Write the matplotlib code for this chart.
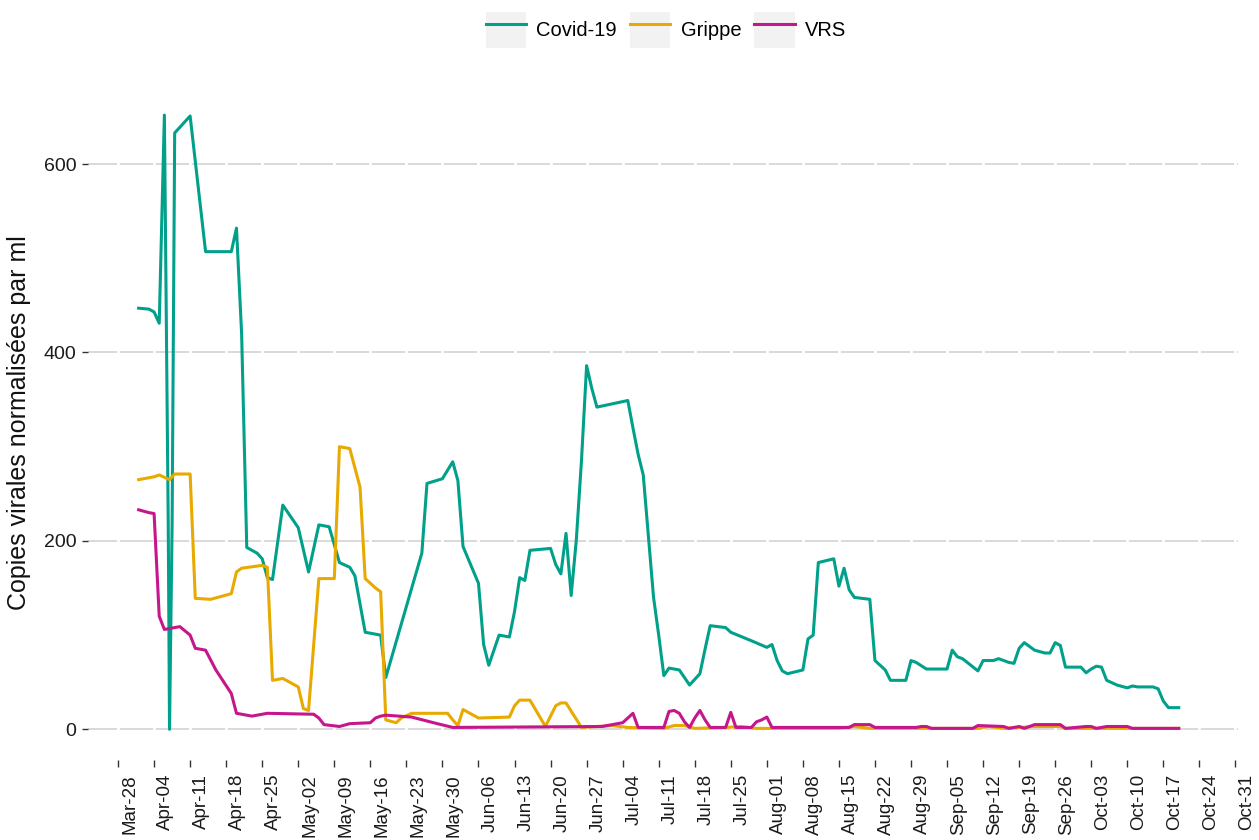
import pandas as pd
import matplotlib
matplotlib.use("Agg")
import matplotlib.pyplot as plt
import matplotlib.dates as mdates
import matplotlib.transforms as mtransforms
from matplotlib.lines import Line2D
from matplotlib.patches import Patch
from matplotlib.legend_handler import HandlerTuple

plt.rcParams["font.family"] = ["Liberation Sans", "DejaVu Sans"]

# --- data (copies virales normalisées par ml) ---
covid_dates = [
    "2022-04-01", "2022-04-03", "2022-04-04", "2022-04-05", "2022-04-06",
    "2022-04-06 18:00", "2022-04-07", "2022-04-07 12:00", "2022-04-08", "2022-04-11",
    "2022-04-14", "2022-04-19", "2022-04-20", "2022-04-21", "2022-04-22",
    "2022-04-24", "2022-04-25", "2022-04-26", "2022-04-27", "2022-04-29",
    "2022-05-02", "2022-05-04", "2022-05-06", "2022-05-08", "2022-05-10",
    "2022-05-12", "2022-05-13", "2022-05-15", "2022-05-18", "2022-05-19",
    "2022-05-26", "2022-05-27", "2022-05-30", "2022-06-01", "2022-06-02",
    "2022-06-03", "2022-06-06", "2022-06-07", "2022-06-08", "2022-06-10",
    "2022-06-12", "2022-06-13", "2022-06-14", "2022-06-15", "2022-06-16",
    "2022-06-20", "2022-06-21", "2022-06-22", "2022-06-23", "2022-06-24",
    "2022-06-25", "2022-06-26", "2022-06-27", "2022-06-28", "2022-06-29",
    "2022-07-05", "2022-07-06", "2022-07-07", "2022-07-08", "2022-07-09",
    "2022-07-10", "2022-07-11", "2022-07-12", "2022-07-13", "2022-07-15",
    "2022-07-17", "2022-07-19", "2022-07-20", "2022-07-21", "2022-07-24",
    "2022-07-25", "2022-07-29", "2022-08-01", "2022-08-02", "2022-08-03",
    "2022-08-04", "2022-08-05", "2022-08-08", "2022-08-09", "2022-08-10",
    "2022-08-11", "2022-08-14", "2022-08-15", "2022-08-16", "2022-08-17",
    "2022-08-18", "2022-08-21", "2022-08-22", "2022-08-24", "2022-08-25",
    "2022-08-28", "2022-08-29", "2022-08-30", "2022-09-01", "2022-09-05",
    "2022-09-06", "2022-09-07", "2022-09-08", "2022-09-11", "2022-09-12",
    "2022-09-14", "2022-09-15", "2022-09-17", "2022-09-18", "2022-09-19",
    "2022-09-20", "2022-09-21", "2022-09-22", "2022-09-24", "2022-09-25",
    "2022-09-26", "2022-09-27", "2022-09-28", "2022-10-01", "2022-10-02",
    "2022-10-03", "2022-10-04", "2022-10-05", "2022-10-06", "2022-10-08",
    "2022-10-10", "2022-10-11", "2022-10-12", "2022-10-15", "2022-10-16",
    "2022-10-17", "2022-10-18", "2022-10-20",
]
covid_vals = [
    447, 446, 443, 431, 652,
    217, 0, 217, 633, 651,
    507, 507, 532, 420, 193,
    187, 181, 161, 159, 238,
    214, 167, 217, 215, 177,
    172, 163, 103, 100, 55,
    187, 261, 266, 284, 264,
    194, 155, 90, 68, 100,
    98, 125, 161, 158, 190,
    192, 175, 165, 208, 142,
    201, 285, 386, 362, 342,
    349, 320, 292, 270, 205,
    140, 100, 57, 65, 63,
    47, 59, 85, 110, 108,
    103, 94, 87, 90, 73,
    62, 59, 63, 96, 100,
    177, 181, 152, 171, 148,
    140, 138, 73, 63, 52,
    52, 73, 71, 64, 64,
    84, 77, 75, 62, 73,
    73, 75, 71, 70, 86,
    92, 88, 84, 81, 81,
    92, 89, 66, 66, 60,
    64, 67, 66, 52, 47,
    44, 46, 45, 45, 43,
    30, 23, 23,
]

grippe_dates = [
    "2022-04-01", "2022-04-04", "2022-04-05", "2022-04-07", "2022-04-08",
    "2022-04-11", "2022-04-12", "2022-04-15", "2022-04-19", "2022-04-20",
    "2022-04-21", "2022-04-25", "2022-04-26", "2022-04-27", "2022-04-29",
    "2022-05-02", "2022-05-03", "2022-05-04", "2022-05-05", "2022-05-06",
    "2022-05-09", "2022-05-10", "2022-05-12", "2022-05-14", "2022-05-15",
    "2022-05-17", "2022-05-18", "2022-05-19", "2022-05-21", "2022-05-22",
    "2022-05-24", "2022-05-31", "2022-06-01", "2022-06-02", "2022-06-03",
    "2022-06-06", "2022-06-12", "2022-06-13", "2022-06-14", "2022-06-16",
    "2022-06-19", "2022-06-21", "2022-06-22", "2022-06-23", "2022-06-26",
    "2022-07-02", "2022-07-05", "2022-07-12", "2022-07-14", "2022-07-16",
    "2022-07-18", "2022-07-24", "2022-07-27", "2022-07-30", "2022-08-15",
    "2022-08-18", "2022-08-21", "2022-09-11", "2022-09-13", "2022-09-16",
    "2022-09-22", "2022-09-27", "2022-09-28", "2022-10-20",
]
grippe_vals = [
    265, 268, 270, 265, 271,
    271, 139, 138, 144, 167,
    171, 174, 172, 52, 54,
    45, 22, 20, 90, 160,
    160, 300, 298, 257, 160,
    150, 146, 10, 7, 12,
    17, 17, 10, 4, 21,
    12, 13, 25, 31, 31,
    3, 25, 28, 28, 2,
    4, 2, 1, 4, 4,
    1, 2, 3, 1, 1,
    3, 1, 1, 3, 1,
    3, 3, 1, 1,
]

vrs_dates = [
    "2022-04-01", "2022-04-03", "2022-04-04", "2022-04-05", "2022-04-06",
    "2022-04-09", "2022-04-11", "2022-04-12", "2022-04-14", "2022-04-16",
    "2022-04-19", "2022-04-20", "2022-04-23", "2022-04-26", "2022-05-05",
    "2022-05-06", "2022-05-07", "2022-05-10", "2022-05-12", "2022-05-16",
    "2022-05-17", "2022-05-18", "2022-05-19", "2022-05-24", "2022-05-29",
    "2022-06-01", "2022-06-30", "2022-07-04", "2022-07-06", "2022-07-07",
    "2022-07-12", "2022-07-13", "2022-07-14", "2022-07-15", "2022-07-16",
    "2022-07-17", "2022-07-18", "2022-07-19", "2022-07-20", "2022-07-21",
    "2022-07-24", "2022-07-25", "2022-07-26", "2022-07-29", "2022-07-30",
    "2022-07-31", "2022-08-01", "2022-08-02", "2022-08-17", "2022-08-18",
    "2022-08-21", "2022-08-22", "2022-08-30", "2022-08-31", "2022-09-01",
    "2022-09-02", "2022-09-10", "2022-09-11", "2022-09-16", "2022-09-17",
    "2022-09-19", "2022-09-20", "2022-09-22", "2022-09-27", "2022-09-28",
    "2022-10-02", "2022-10-03", "2022-10-04", "2022-10-06", "2022-10-10",
    "2022-10-11", "2022-10-20",
]
vrs_vals = [
    233, 230, 229, 120, 106,
    109, 100, 86, 84, 63,
    38, 17, 14, 17, 16,
    12, 5, 3, 6, 7,
    12, 14, 15, 13, 6,
    2, 3, 7, 17, 2,
    2, 19, 20, 17, 8,
    2, 12, 20, 10, 2,
    2, 18, 2, 2, 8,
    10, 13, 2, 2, 5,
    5, 2, 2, 3, 3,
    1, 1, 4, 3, 1,
    3, 1, 5, 5, 1,
    3, 3, 1, 3, 3,
    1, 1,
]

series_names = ["Covid-19", "Grippe", "VRS"]
series_colors = ["#00A08A", "#E8A900", "#C5168C"]

y_ticks = [0, 200, 400, 600]
tick_start, tick_end = "2022-03-28", "2022-10-31"

# --- figure ---
fig = plt.figure(figsize=(12.59, 8.4), dpi=100)
ax = fig.add_axes([0.0699, 0.0952, 0.9134, 0.8044])

all_series = [
    (covid_dates, covid_vals),
    (grippe_dates, grippe_vals),
    (vrs_dates, vrs_vals),
]
for (d, v), name, col in zip(all_series, series_names, series_colors):
    ax.plot(pd.to_datetime(d, format="ISO8601"), v, color=col, lw=2.2, label=name, zorder=3)

x_ticks = pd.date_range(tick_start, tick_end, freq="7D")
ax.set_xlim(pd.Timestamp("2022-03-22 04:00"), pd.Timestamp("2022-10-31 12:00"))
ax.set_ylim(-32.6, 684.6)

# horizontal grey grid, thin white verticals on top (ggplot look)
for yv in y_ticks:
    ax.axhline(yv, color="#D9D9D9", lw=1.4, zorder=1)
for xv in x_ticks:
    ax.axvline(xv, color="white", lw=2.0, zorder=1.5)

ax.set_xticks(x_ticks)
ax.xaxis.set_major_formatter(mdates.DateFormatter("%b-%d"))
ax.set_yticks(y_ticks)
ax.tick_params(axis="x", labelrotation=90, length=5, width=1.0, color="#333333",
               labelsize=13.5, labelcolor="#1a1a1a", pad=5)
ax.tick_params(axis="y", length=4.5, width=1.0, color="#333333",
               labelsize=14, labelcolor="#1a1a1a", pad=4)
for s in ax.spines.values():
    s.set_visible(False)

# rotated date labels sit just right of their tick, like the original
shift = mtransforms.ScaledTranslation(3 / 100, 0, fig.dpi_scale_trans)
for lbl in ax.get_xticklabels():
    lbl.set_horizontalalignment("left")
    lbl.set_transform(lbl.get_transform() + shift)

ax.set_ylabel("Copies virales normalisées par ml", fontsize=18, color="#111111")
ax.yaxis.set_label_coords(-0.05, 0.5)

# legend with grey key boxes
handles = [
    (Patch(facecolor="#F2F2F2", edgecolor="none"), Line2D([], [], color=c, lw=2.2))
    for c in series_colors
]
fig.legend(handles, series_names, loc="center", bbox_to_anchor=(0.529, 0.964), ncol=3,
           frameon=False, fontsize=14.5, handlelength=2.0, handleheight=2.4,
           handletextpad=0.5, columnspacing=0.65,
           handler_map={tuple: HandlerTuple(ndivide=1, pad=0)})

fig.savefig("out.png", dpi=100, facecolor="white")
